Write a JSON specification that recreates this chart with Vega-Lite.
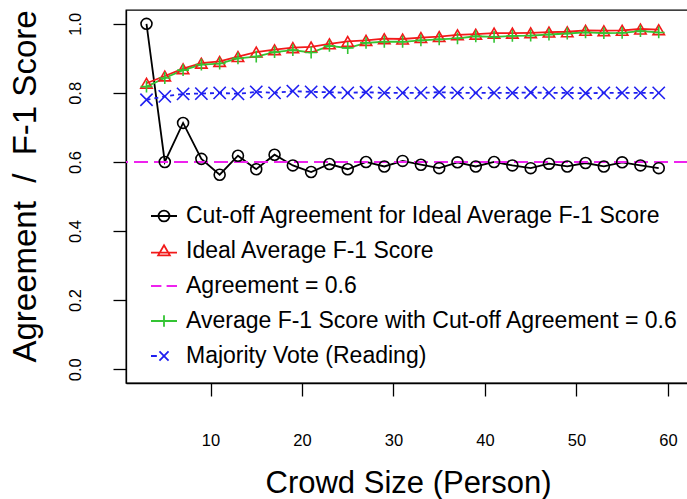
{
  "$schema": "https://vega.github.io/schema/vega-lite/v6.json",
  "width": 562,
  "height": 373,
  "autosize": {"type": "none"},
  "padding": {"left": 126, "top": 10, "right": 0, "bottom": 116},
  "background": "white",
  "config": {
    "font": "Liberation Sans",
    "view": {"stroke": "black", "strokeWidth": 1.3},
    "axis": {"grid": false, "domainColor": "black", "tickColor": "black", "labelColor": "black", "titleColor": "black", "labelFont": "Liberation Sans", "titleFont": "Liberation Sans", "titleFontWeight": "normal", "domainWidth": 1.3, "tickWidth": 1.3}
  },
  "datasets": {
    "legendrows": [
      {"series": "Cut-off Agreement for Ideal Average F-1 Score"},
      {"series": "Ideal Average F-1 Score"},
      {"series": "Agreement = 0.6"},
      {"series": "Average F-1 Score with Cut-off Agreement = 0.6"},
      {"series": "Majority Vote (Reading)"}
    ],
    "ref": [
      {"series": "Agreement = 0.6", "value": 0.6}
    ],
    "main": [
      {"size": 3, "series": "Cut-off Agreement for Ideal Average F-1 Score", "value": 1.0},
      {"size": 5, "series": "Cut-off Agreement for Ideal Average F-1 Score", "value": 0.6},
      {"size": 7, "series": "Cut-off Agreement for Ideal Average F-1 Score", "value": 0.713},
      {"size": 9, "series": "Cut-off Agreement for Ideal Average F-1 Score", "value": 0.609},
      {"size": 11, "series": "Cut-off Agreement for Ideal Average F-1 Score", "value": 0.563},
      {"size": 13, "series": "Cut-off Agreement for Ideal Average F-1 Score", "value": 0.618},
      {"size": 15, "series": "Cut-off Agreement for Ideal Average F-1 Score", "value": 0.579},
      {"size": 17, "series": "Cut-off Agreement for Ideal Average F-1 Score", "value": 0.621},
      {"size": 19, "series": "Cut-off Agreement for Ideal Average F-1 Score", "value": 0.59},
      {"size": 21, "series": "Cut-off Agreement for Ideal Average F-1 Score", "value": 0.571},
      {"size": 23, "series": "Cut-off Agreement for Ideal Average F-1 Score", "value": 0.594},
      {"size": 25, "series": "Cut-off Agreement for Ideal Average F-1 Score", "value": 0.579},
      {"size": 27, "series": "Cut-off Agreement for Ideal Average F-1 Score", "value": 0.6},
      {"size": 29, "series": "Cut-off Agreement for Ideal Average F-1 Score", "value": 0.587},
      {"size": 31, "series": "Cut-off Agreement for Ideal Average F-1 Score", "value": 0.603},
      {"size": 33, "series": "Cut-off Agreement for Ideal Average F-1 Score", "value": 0.592},
      {"size": 35, "series": "Cut-off Agreement for Ideal Average F-1 Score", "value": 0.582},
      {"size": 37, "series": "Cut-off Agreement for Ideal Average F-1 Score", "value": 0.599},
      {"size": 39, "series": "Cut-off Agreement for Ideal Average F-1 Score", "value": 0.587},
      {"size": 41, "series": "Cut-off Agreement for Ideal Average F-1 Score", "value": 0.6},
      {"size": 43, "series": "Cut-off Agreement for Ideal Average F-1 Score", "value": 0.59},
      {"size": 45, "series": "Cut-off Agreement for Ideal Average F-1 Score", "value": 0.582},
      {"size": 47, "series": "Cut-off Agreement for Ideal Average F-1 Score", "value": 0.595},
      {"size": 49, "series": "Cut-off Agreement for Ideal Average F-1 Score", "value": 0.587},
      {"size": 51, "series": "Cut-off Agreement for Ideal Average F-1 Score", "value": 0.597},
      {"size": 53, "series": "Cut-off Agreement for Ideal Average F-1 Score", "value": 0.587},
      {"size": 55, "series": "Cut-off Agreement for Ideal Average F-1 Score", "value": 0.599},
      {"size": 57, "series": "Cut-off Agreement for Ideal Average F-1 Score", "value": 0.59},
      {"size": 59, "series": "Cut-off Agreement for Ideal Average F-1 Score", "value": 0.582},
      {"size": 3, "series": "Ideal Average F-1 Score", "value": 0.828},
      {"size": 5, "series": "Ideal Average F-1 Score", "value": 0.849},
      {"size": 7, "series": "Ideal Average F-1 Score", "value": 0.87},
      {"size": 9, "series": "Ideal Average F-1 Score", "value": 0.886},
      {"size": 11, "series": "Ideal Average F-1 Score", "value": 0.891},
      {"size": 13, "series": "Ideal Average F-1 Score", "value": 0.905},
      {"size": 15, "series": "Ideal Average F-1 Score", "value": 0.918},
      {"size": 17, "series": "Ideal Average F-1 Score", "value": 0.925},
      {"size": 19, "series": "Ideal Average F-1 Score", "value": 0.931},
      {"size": 21, "series": "Ideal Average F-1 Score", "value": 0.933},
      {"size": 23, "series": "Ideal Average F-1 Score", "value": 0.942},
      {"size": 25, "series": "Ideal Average F-1 Score", "value": 0.949},
      {"size": 27, "series": "Ideal Average F-1 Score", "value": 0.952},
      {"size": 29, "series": "Ideal Average F-1 Score", "value": 0.957},
      {"size": 31, "series": "Ideal Average F-1 Score", "value": 0.956},
      {"size": 33, "series": "Ideal Average F-1 Score", "value": 0.96},
      {"size": 35, "series": "Ideal Average F-1 Score", "value": 0.963},
      {"size": 37, "series": "Ideal Average F-1 Score", "value": 0.968},
      {"size": 39, "series": "Ideal Average F-1 Score", "value": 0.97},
      {"size": 41, "series": "Ideal Average F-1 Score", "value": 0.973},
      {"size": 43, "series": "Ideal Average F-1 Score", "value": 0.973},
      {"size": 45, "series": "Ideal Average F-1 Score", "value": 0.974},
      {"size": 47, "series": "Ideal Average F-1 Score", "value": 0.976},
      {"size": 49, "series": "Ideal Average F-1 Score", "value": 0.977},
      {"size": 51, "series": "Ideal Average F-1 Score", "value": 0.981},
      {"size": 53, "series": "Ideal Average F-1 Score", "value": 0.98},
      {"size": 55, "series": "Ideal Average F-1 Score", "value": 0.981},
      {"size": 57, "series": "Ideal Average F-1 Score", "value": 0.985},
      {"size": 59, "series": "Ideal Average F-1 Score", "value": 0.983},
      {"size": 3, "series": "Average F-1 Score with Cut-off Agreement = 0.6", "value": 0.818},
      {"size": 5, "series": "Average F-1 Score with Cut-off Agreement = 0.6", "value": 0.843},
      {"size": 7, "series": "Average F-1 Score with Cut-off Agreement = 0.6", "value": 0.866},
      {"size": 9, "series": "Average F-1 Score with Cut-off Agreement = 0.6", "value": 0.882},
      {"size": 11, "series": "Average F-1 Score with Cut-off Agreement = 0.6", "value": 0.885},
      {"size": 13, "series": "Average F-1 Score with Cut-off Agreement = 0.6", "value": 0.9},
      {"size": 15, "series": "Average F-1 Score with Cut-off Agreement = 0.6", "value": 0.905},
      {"size": 17, "series": "Average F-1 Score with Cut-off Agreement = 0.6", "value": 0.918},
      {"size": 19, "series": "Average F-1 Score with Cut-off Agreement = 0.6", "value": 0.924},
      {"size": 21, "series": "Average F-1 Score with Cut-off Agreement = 0.6", "value": 0.917},
      {"size": 23, "series": "Average F-1 Score with Cut-off Agreement = 0.6", "value": 0.936},
      {"size": 25, "series": "Average F-1 Score with Cut-off Agreement = 0.6", "value": 0.93},
      {"size": 27, "series": "Average F-1 Score with Cut-off Agreement = 0.6", "value": 0.945},
      {"size": 29, "series": "Average F-1 Score with Cut-off Agreement = 0.6", "value": 0.948},
      {"size": 31, "series": "Average F-1 Score with Cut-off Agreement = 0.6", "value": 0.948},
      {"size": 33, "series": "Average F-1 Score with Cut-off Agreement = 0.6", "value": 0.952},
      {"size": 35, "series": "Average F-1 Score with Cut-off Agreement = 0.6", "value": 0.955},
      {"size": 37, "series": "Average F-1 Score with Cut-off Agreement = 0.6", "value": 0.958},
      {"size": 39, "series": "Average F-1 Score with Cut-off Agreement = 0.6", "value": 0.964},
      {"size": 41, "series": "Average F-1 Score with Cut-off Agreement = 0.6", "value": 0.962},
      {"size": 43, "series": "Average F-1 Score with Cut-off Agreement = 0.6", "value": 0.965},
      {"size": 45, "series": "Average F-1 Score with Cut-off Agreement = 0.6", "value": 0.966},
      {"size": 47, "series": "Average F-1 Score with Cut-off Agreement = 0.6", "value": 0.969},
      {"size": 49, "series": "Average F-1 Score with Cut-off Agreement = 0.6", "value": 0.972},
      {"size": 51, "series": "Average F-1 Score with Cut-off Agreement = 0.6", "value": 0.975},
      {"size": 53, "series": "Average F-1 Score with Cut-off Agreement = 0.6", "value": 0.973},
      {"size": 55, "series": "Average F-1 Score with Cut-off Agreement = 0.6", "value": 0.974},
      {"size": 57, "series": "Average F-1 Score with Cut-off Agreement = 0.6", "value": 0.979},
      {"size": 59, "series": "Average F-1 Score with Cut-off Agreement = 0.6", "value": 0.975},
      {"size": 3, "series": "Majority Vote (Reading)", "value": 0.78},
      {"size": 5, "series": "Majority Vote (Reading)", "value": 0.79},
      {"size": 7, "series": "Majority Vote (Reading)", "value": 0.797},
      {"size": 9, "series": "Majority Vote (Reading)", "value": 0.798},
      {"size": 11, "series": "Majority Vote (Reading)", "value": 0.8},
      {"size": 13, "series": "Majority Vote (Reading)", "value": 0.797},
      {"size": 15, "series": "Majority Vote (Reading)", "value": 0.803},
      {"size": 17, "series": "Majority Vote (Reading)", "value": 0.8},
      {"size": 19, "series": "Majority Vote (Reading)", "value": 0.805},
      {"size": 21, "series": "Majority Vote (Reading)", "value": 0.803},
      {"size": 23, "series": "Majority Vote (Reading)", "value": 0.802},
      {"size": 25, "series": "Majority Vote (Reading)", "value": 0.8},
      {"size": 27, "series": "Majority Vote (Reading)", "value": 0.802},
      {"size": 29, "series": "Majority Vote (Reading)", "value": 0.8},
      {"size": 31, "series": "Majority Vote (Reading)", "value": 0.8},
      {"size": 33, "series": "Majority Vote (Reading)", "value": 0.8},
      {"size": 35, "series": "Majority Vote (Reading)", "value": 0.802},
      {"size": 37, "series": "Majority Vote (Reading)", "value": 0.8},
      {"size": 39, "series": "Majority Vote (Reading)", "value": 0.8},
      {"size": 41, "series": "Majority Vote (Reading)", "value": 0.8},
      {"size": 43, "series": "Majority Vote (Reading)", "value": 0.8},
      {"size": 45, "series": "Majority Vote (Reading)", "value": 0.801},
      {"size": 47, "series": "Majority Vote (Reading)", "value": 0.8},
      {"size": 49, "series": "Majority Vote (Reading)", "value": 0.8},
      {"size": 51, "series": "Majority Vote (Reading)", "value": 0.799},
      {"size": 53, "series": "Majority Vote (Reading)", "value": 0.8},
      {"size": 55, "series": "Majority Vote (Reading)", "value": 0.8},
      {"size": 57, "series": "Majority Vote (Reading)", "value": 0.8},
      {"size": 59, "series": "Majority Vote (Reading)", "value": 0.8}
    ]
  },
  "data": {"name": "main"},
  "resolve": {"scale": {"color": "independent", "shape": "independent", "size": "independent"}},
  "layer": [
    {
      "layer": [
        {
          "data": {"name": "legendrows"},
          "mark": {"type": "point", "filled": false, "strokeWidth": 1.8, "opacity": 1},
          "encoding": {
            "x": {"field": "size", "type": "quantitative"},
            "y": {"field": "value", "type": "quantitative"},
            "color": {
              "field": "series", "type": "nominal",
              "scale": {
                "domain": ["Cut-off Agreement for Ideal Average F-1 Score", "Ideal Average F-1 Score", "Agreement = 0.6", "Average F-1 Score with Cut-off Agreement = 0.6", "Majority Vote (Reading)"],
                "range": ["#000000", "#F21A1A", "#EE22EE", "#33C433", "#1F1FF0"]
              },
              "legend": {
                "orient": "none", "legendX": 24, "legendY": 192, "title": null, "padding": 0,
                "symbolSize": 676, "symbolStrokeWidth": 1.8, "symbolFillColor": "transparent", "symbolOpacity": 1,
                "labelFontSize": 23, "labelFont": "Liberation Sans", "labelColor": "black",
                "labelOffset": 8, "labelLimit": 0, "rowPadding": 9
              }
            },
            "shape": {
              "field": "series", "type": "nominal",
              "scale": {
                "domain": ["Cut-off Agreement for Ideal Average F-1 Score", "Ideal Average F-1 Score", "Agreement = 0.6", "Average F-1 Score with Cut-off Agreement = 0.6", "Majority Vote (Reading)"],
                "range": [
                  "M-1,0H1M-0.42,0A0.42,0.42,0,1,0,0.42,0A0.42,0.42,0,1,0,-0.42,0",
                  "M-1,0.12H1M0,-0.44L0.45,0.34L-0.45,0.34Z",
                  "M-1,0H-0.2M0.2,0H1",
                  "M-1,0H1M0,-0.45V0.45",
                  "M-1,0H-0.55M-0.35,-0.35L0.35,0.35M-0.35,0.35L0.35,-0.35"
                ]
              }
            }
          }
        },
        {
          "transform": [{"filter": "datum.series !== 'Majority Vote (Reading)'"}],
          "mark": {"type": "line", "strokeWidth": 1.8},
          "encoding": {
            "x": {
              "field": "size", "type": "quantitative",
              "scale": {"domain": [0.76, 62.2], "nice": false, "zero": false},
              "axis": {
                "values": [10, 20, 30, 40, 50, 60], "format": "d",
                "tickSize": 13, "labelPadding": 36, "labelBaseline": "top", "labelFontSize": 16.5,
                "title": "Crowd Size (Person)", "titleFontSize": 31, "titleBaseline": "alphabetic",
                "titleY": 109, "titleX": 282
              }
            },
            "y": {
              "field": "value", "type": "quantitative",
              "scale": {"domain": [-0.04, 1.04], "nice": false, "zero": false},
              "axis": {
                "values": [0, 0.2, 0.4, 0.6, 0.8, 1.0], "format": ".1f",
                "tickSize": 13, "labelPadding": 33, "labelAngle": 270, "labelAlign": "center", "labelBaseline": "alphabetic", "labelFontSize": 16.5,
                "title": "Agreement\u00a0\u00a0/\u00a0\u00a0F-1 Score", "titleFontSize": 33, "titleAngle": 270, "titleAlign": "center", "titleBaseline": "alphabetic",
                "titleX": -91, "titleY": 176
              }
            },
            "color": {"field": "series", "type": "nominal"}
          }
        },
        {
          "transform": [{"filter": "datum.series === 'Majority Vote (Reading)'"}],
          "mark": {"type": "line", "strokeWidth": 1.8, "strokeDash": [4, 4]},
          "encoding": {
            "x": {"field": "size", "type": "quantitative"},
            "y": {"field": "value", "type": "quantitative"},
            "color": {"field": "series", "type": "nominal"}
          }
        },
        {
          "data": {"name": "ref"},
          "mark": {"type": "rule", "strokeWidth": 2, "strokeDash": [14, 6]},
          "encoding": {
            "y": {"field": "value", "type": "quantitative"},
            "color": {"field": "series", "type": "nominal"}
          }
        }
      ]
    },
    {
      "mark": {"type": "point", "filled": false, "strokeWidth": 1.6, "opacity": 1},
      "encoding": {
        "x": {"field": "size", "type": "quantitative"},
        "y": {"field": "value", "type": "quantitative"},
        "color": {
          "field": "series", "type": "nominal",
          "scale": {
            "domain": ["Cut-off Agreement for Ideal Average F-1 Score", "Ideal Average F-1 Score", "Agreement = 0.6", "Average F-1 Score with Cut-off Agreement = 0.6", "Majority Vote (Reading)"],
            "range": ["#000000", "#F21A1A", "#EE22EE", "#33C433", "#1F1FF0"]
          },
          "legend": null
        },
        "shape": {
          "field": "series", "type": "nominal",
          "scale": {
            "domain": ["Cut-off Agreement for Ideal Average F-1 Score", "Ideal Average F-1 Score", "Average F-1 Score with Cut-off Agreement = 0.6", "Majority Vote (Reading)"],
            "range": ["circle", "triangle-up", "M-1,0H1M0,-1V1", "M-1,-1L1,1M-1,1L1,-1"]
          },
          "legend": null
        },
        "size": {
          "field": "series", "type": "ordinal",
          "scale": {
            "domain": ["Cut-off Agreement for Ideal Average F-1 Score", "Ideal Average F-1 Score", "Average F-1 Score with Cut-off Agreement = 0.6", "Majority Vote (Reading)"],
            "range": [120, 150, 140, 90]
          },
          "legend": null
        }
      }
    }
  ]
}
